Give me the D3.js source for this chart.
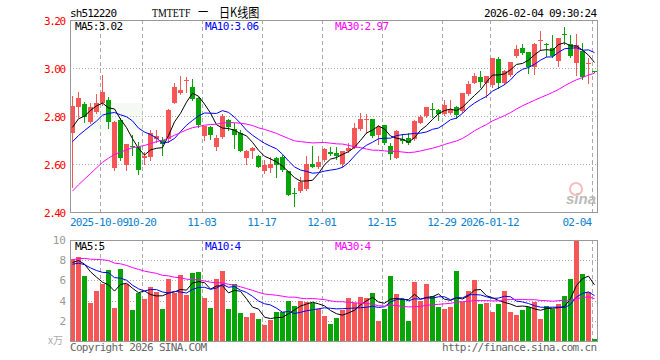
<!DOCTYPE html>
<html>
<head>
<meta charset="utf-8">
<title>sh512220 日K线图</title>
<script src="https://d3js.org/d3.v7.min.js"></script>
<style>
  body { margin: 0; background: #fff; }
  svg { display: block; }
  text { font-family: "DejaVu Sans Mono", monospace; }
</style>
</head>
<body>
<script>
// trading days shown on the chart
var dates = [
  "2025-09-24","2025-09-25","2025-09-26","2025-09-29","2025-09-30",
  "2025-10-09","2025-10-10","2025-10-13","2025-10-14","2025-10-15","2025-10-16","2025-10-17",
  "2025-10-20","2025-10-21","2025-10-22","2025-10-23","2025-10-24",
  "2025-10-27","2025-10-28","2025-10-29","2025-10-30","2025-10-31",
  "2025-11-03","2025-11-04","2025-11-05","2025-11-06","2025-11-07",
  "2025-11-10","2025-11-11","2025-11-12","2025-11-13","2025-11-14",
  "2025-11-17","2025-11-18","2025-11-19","2025-11-20","2025-11-21",
  "2025-11-24","2025-11-25","2025-11-26","2025-11-27","2025-11-28",
  "2025-12-01","2025-12-02","2025-12-03","2025-12-04","2025-12-05",
  "2025-12-08","2025-12-09","2025-12-10","2025-12-11","2025-12-12",
  "2025-12-15","2025-12-16","2025-12-17","2025-12-18","2025-12-19",
  "2025-12-22","2025-12-23","2025-12-24","2025-12-25","2025-12-26",
  "2025-12-29","2025-12-30","2025-12-31",
  "2026-01-05","2026-01-06","2026-01-07","2026-01-08","2026-01-09",
  "2026-01-12","2026-01-13","2026-01-14","2026-01-15","2026-01-16",
  "2026-01-19","2026-01-20","2026-01-21","2026-01-22","2026-01-23",
  "2026-01-26","2026-01-27","2026-01-28","2026-01-29","2026-01-30",
  "2026-02-02","2026-02-03","2026-02-04"
];

var open = [2.730,2.836,2.850,2.776,2.818,2.856,2.867,2.582,2.783,2.596,
  2.675,2.672,2.627,2.628,2.703,2.700,2.703,2.853,2.894,2.945,
  2.922,2.874,2.717,2.753,2.669,2.711,2.783,2.744,2.731,2.624,
  2.656,2.633,2.572,2.582,2.626,2.631,2.572,2.478,2.489,2.494,
  2.600,2.589,2.617,2.651,2.644,2.600,2.656,2.665,2.744,2.784,
  2.788,2.721,2.763,2.675,2.626,2.703,2.707,2.703,2.772,2.800,
  2.831,2.825,2.808,2.814,2.836,2.822,2.892,2.939,2.961,2.936,
  2.929,3.036,2.936,2.971,3.050,3.082,3.068,3.006,3.114,3.099,
  3.085,3.031,3.140,3.100,3.022,3.071,3.017,2.986];
var high = [2.883,2.901,2.860,2.853,2.892,2.971,2.881,2.780,2.790,2.683,
  2.720,2.693,2.651,2.742,2.742,2.714,2.828,2.939,2.967,2.964,
  2.954,2.881,2.758,2.758,2.721,2.807,2.786,2.769,2.742,2.658,
  2.672,2.637,2.617,2.631,2.631,2.638,2.572,2.499,2.547,2.633,
  2.675,2.633,2.665,2.672,2.669,2.654,2.686,2.769,2.811,2.808,
  2.788,2.763,2.763,2.689,2.742,2.724,2.728,2.783,2.804,2.836,
  2.853,2.831,2.867,2.867,2.842,2.897,2.946,2.978,2.989,2.967,
  3.043,3.044,2.992,3.025,3.096,3.099,3.068,3.106,3.154,3.103,
  3.138,3.125,3.172,3.138,3.140,3.103,3.040,2.986];
var low = [2.506,2.797,2.776,2.769,2.811,2.846,2.749,2.575,2.615,2.575,
  2.637,2.558,2.600,2.617,2.693,2.638,2.693,2.853,2.892,2.901,
  2.867,2.753,2.700,2.703,2.658,2.707,2.742,2.665,2.655,2.600,
  2.624,2.586,2.561,2.568,2.547,2.572,2.471,2.425,2.485,2.492,
  2.586,2.582,2.614,2.638,2.619,2.586,2.651,2.665,2.742,2.731,
  2.714,2.683,2.683,2.619,2.624,2.689,2.683,2.700,2.769,2.797,
  2.797,2.783,2.804,2.808,2.790,2.818,2.888,2.936,2.922,2.881,
  2.922,2.915,2.933,2.967,3.047,3.058,2.981,2.975,3.075,3.050,
  3.047,3.008,3.100,3.047,2.971,2.953,2.936,2.985];
var close = [2.842,2.876,2.797,2.839,2.856,2.901,2.776,2.775,2.624,2.683,
  2.669,2.575,2.635,2.731,2.717,2.683,2.825,2.922,2.908,2.950,
  2.869,2.763,2.758,2.721,2.707,2.800,2.753,2.721,2.656,2.656,
  2.665,2.589,2.596,2.600,2.596,2.575,2.471,2.475,2.526,2.600,
  2.589,2.610,2.661,2.642,2.633,2.654,2.668,2.751,2.786,2.786,
  2.717,2.753,2.686,2.642,2.738,2.697,2.689,2.781,2.797,2.836,
  2.826,2.808,2.846,2.828,2.804,2.897,2.932,2.967,2.943,2.967,
  3.043,2.936,2.989,3.025,3.081,3.064,3.006,3.099,3.117,3.096,
  3.050,3.125,3.138,3.050,3.096,2.964,3.019,2.985];
// volume, 万手
var volume = [8.1,8.3,6.4,3.8,5.0,5.6,7.0,3.3,7.1,5.6,
  3.1,4.8,4.2,5.3,4.9,3.2,6.1,4.8,6.5,4.6,
  6.7,6.8,4.3,3.3,6.1,6.9,3.2,5.6,2.8,2.4,
  2.8,2.2,1.6,2.1,2.9,2.9,4.0,3.5,4.0,3.9,
  3.8,3.2,2.5,1.7,2.3,3.1,4.3,3.8,4.4,4.3,
  4.8,2.0,3.2,6.4,4.7,4.2,2.0,5.8,4.0,5.6,
  4.5,3.4,3.2,3.4,6.9,3.9,5.0,6.0,3.7,3.8,
  2.9,3.7,5.0,2.9,2.6,3.1,3.4,3.9,2.2,3.5,
  3.2,3.7,4.5,6.1,10.0,6.6,4.9,0.2];

// 29 sessions before the window, only used for the moving averages
var prevClose = [2.08,2.10,2.13,2.16,2.20,2.26,2.30,2.35,2.38,2.41,
  2.44,2.49,2.50,2.47,2.52,2.56,2.55,2.58,2.60,2.60,
  2.62,2.59,2.64,2.66,2.655,2.70,2.74,2.72,2.763];
var prevVolume = [5.2,5.6,6.0,5.8,6.5,9.5,10.8,9.2,10.5,9.4,
  10.1,9.5,8.8,8.0,9.1,7.6,8.9,8.2,8.6,8.1,
  7.2,7.9,7.0,7.6,7.45,7.3,8.2,7.6,7.65];

var priceTicks = [2.40, 2.60, 2.80, 3.00, 3.20];
var volTicks = [2, 4, 6, 8, 10];
var tickDates = ["2025-10-09","2025-10-20","2025-11-03","2025-11-17","2025-12-01",
  "2025-12-15","2025-12-29","2026-01-12","2026-02-04"];
var tickLabels = ["2025-10-09","10-20","11-03","11-17","12-01","12-15","12-29","2026-01-12","02-04"];

var W = 660, H = 360;
var left = 70, right = 597;
var pTop = 20, pBot = 212, vTop = 240, vBot = 341;
var RED = "#f65656", GREEN = "#07a507";

var svg = d3.select("body").append("svg").attr("width", W).attr("height", H);

var x = d3.scaleLinear().domain([0, dates.length]).range([left, left + 6 * dates.length]);
var y = d3.scaleLinear().domain([2.4, 3.2]).range([pBot, pTop]);
var yv = d3.scaleLinear().domain([0, 10]).range([vBot, vTop]);

function ma(prev, cur, n) {
  var all = prev.concat(cur), off = prev.length;
  return cur.map(function(d, i) {
    return d3.mean(all.slice(off + i - n + 1, off + i + 1));
  });
}
var pMA = [5, 10, 30].map(function(n) { return ma(prevClose, close, n); });
var vMA = [5, 10, 30].map(function(n) { return ma(prevVolume, volume, n); });
var maColors = ["#000000", "#0000ff", "#ff00ff"];

var idx = d3.range(dates.length);
var up = function(i) { return close[i] >= open[i]; };

// grid
function grid(y0, y1, ys, sc) {
  var g = svg.append("g").attr("shape-rendering", "crispEdges");
  g.selectAll("line.v").data(tickDates).enter().append("line")
    .attr("x1", function(d) { return x(dates.indexOf(d)) + 0.5; })
    .attr("x2", function(d) { return x(dates.indexOf(d)) + 0.5; })
    .attr("y1", y0).attr("y2", y1)
    .attr("stroke", "#aaa").attr("stroke-dasharray", "4,3");
  g.selectAll("line.h").data(ys).enter().append("line")
    .attr("x1", left).attr("x2", right)
    .attr("y1", function(d) { return Math.round(sc(d)) + 0.5; })
    .attr("y2", function(d) { return Math.round(sc(d)) + 0.5; })
    .attr("stroke", "#aaa").attr("stroke-dasharray", "1,2");
}
grid(pTop, pBot, [2.6, 2.8, 3.0], y);
grid(vTop, vBot, [2, 4, 6, 8], yv);

// watermark ghost
svg.append("rect").attr("x", 85).attr("y", 103).attr("width", 58).attr("height", 27)
  .attr("fill", "#dfeede").attr("opacity", 0.35);

// candles
var cg = svg.append("g").attr("shape-rendering", "crispEdges");
cg.selectAll("line.wick").data(idx).enter().append("line")
  .attr("x1", function(i) { return x(i) + 2.5; })
  .attr("x2", function(i) { return x(i) + 2.5; })
  .attr("y1", function(i) { return y(high[i]); })
  .attr("y2", function(i) { return y(low[i]) + 1; })
  .attr("stroke", function(i) { return up(i) ? RED : GREEN; });
cg.selectAll("rect.body").data(idx).enter().append("rect")
  .attr("x", function(i) { return x(i); })
  .attr("width", 5)
  .attr("y", function(i) { return y(Math.max(open[i], close[i])); })
  .attr("height", function(i) { return Math.max(1, Math.abs(y(open[i]) - y(close[i]))); })
  .attr("fill", function(i) { return up(i) ? RED : GREEN; });

// volume bars
var vg = svg.append("g").attr("shape-rendering", "crispEdges");
vg.selectAll("rect").data(idx).enter().append("rect")
  .attr("x", function(i) { return x(i); })
  .attr("width", 5)
  .attr("y", function(i) { return yv(volume[i]); })
  .attr("height", function(i) { return vBot - yv(volume[i]); })
  .attr("fill", function(i) { return up(i) ? RED : GREEN; });

// moving average lines
function drawMA(series, sc) {
  series.forEach(function(s, k) {
    var line = d3.line()
      .x(function(d, i) { return x(i) + 2.5; })
      .y(function(d) { return sc(d); });
    svg.append("path").datum(s)
      .attr("fill", "none").attr("stroke", maColors[k]).attr("stroke-width", 1)
      .attr("d", line);
  });
}
drawMA(pMA, y);
drawMA(vMA, yv);

// clip right edge overflow
svg.append("rect").attr("x", right + 1).attr("y", 0).attr("width", W - right).attr("height", H).attr("fill", "#fff");

// frames
[[pTop, pBot], [vTop, vBot]].forEach(function(b) {
  svg.append("rect").attr("x", left + 0.5).attr("y", b[0] + 0.5)
    .attr("width", right - left).attr("height", b[1] - b[0])
    .attr("fill", "none").attr("stroke", "#999").attr("shape-rendering", "crispEdges");
});

// price axis
var pa = svg.append("g").attr("transform", "translate(" + (left - 4) + ",1)")
  .call(d3.axisLeft(y).tickValues(priceTicks).tickSize(0).tickPadding(0).tickFormat(d3.format(".2f")));
pa.select(".domain").remove();
pa.selectAll("text").attr("fill", "#ff0000").style("font-size", "11px")
  .style("font-family", "DejaVu Sans Mono").attr("textLength", 22);

// volume axis
var va = svg.append("g").attr("transform", "translate(" + (left - 4) + ",0)")
  .call(d3.axisLeft(yv).tickValues(volTicks).tickSize(0).tickPadding(0));
va.select(".domain").remove();
va.selectAll("text").attr("fill", "#999").style("font-size", "11px")
  .style("font-family", "DejaVu Sans Mono");
svg.append("text").attr("x", 63).attr("y", 344).attr("text-anchor", "end")
  .attr("fill", "#aaa").style("font-size", "10px").style("font-family", "Noto Sans CJK SC")
  .text("x万");

// date labels
svg.selectAll("text.date").data(tickDates).enter().append("text")
  .attr("x", function(d, k) {
    if (k === 0) return left;
    return x(dates.indexOf(d));
  })
  .attr("y", 226)
  .attr("text-anchor", function(d, k) { return k === 0 ? "start" : (k === tickDates.length - 1 ? "end" : "middle"); })
  .attr("fill", "#0a82d0").style("font-size", "11px")
  .attr("textLength", function(d, k) { return tickLabels[k].length * 5.9; })
  .text(function(d, k) { return tickLabels[k]; });

// header
svg.append("text").attr("x", 70).attr("y", 17).style("font-size", "11px")
  .attr("textLength", 47).text("sh512220");
// title: narrow serif latin part, then the CJK part
svg.append("text").attr("transform", "translate(152,17) scale(0.76,1)")
  .style("font-size", "13px").style("font-family", "'Liberation Serif'")
  .text("TMTETF");
svg.append("text").attr("transform", "translate(198,17) scale(0.85,1)")
  .style("font-size", "12px").style("font-family", "'Noto Sans CJK SC'")
  .text("一");
svg.append("text").attr("transform", "translate(219,17) scale(0.85,1)")
  .style("font-size", "13px").style("font-family", "'Noto Sans CJK SC'")
  .text("日K线图");
svg.append("text").attr("x", 597).attr("y", 17).attr("text-anchor", "end").style("font-size", "11px")
  .attr("textLength", 113).text("2026-02-04 09:30:24");

// legends (values truncated, as on the source chart)
var last = dates.length - 1;
var trunc2 = function(v) { return (Math.floor(v * 100 + 1e-9) / 100).toFixed(2); };
var lx = [75, 205, 335], names = ["MA5:", "MA10:", "MA30:"];
names.forEach(function(n, k) {
  svg.append("text").attr("x", lx[k]).attr("y", 30).attr("fill", maColors[k])
    .style("font-size", "11px").attr("textLength", (n.length + 4) * 6)
    .text(n + trunc2(pMA[k][last]));
  svg.append("text").attr("x", lx[k]).attr("y", 250).attr("fill", maColors[k])
    .style("font-size", "11px").attr("textLength", (n.length + 1) * 6)
    .text(n + Math.floor(vMA[k][last]));
});

// footer
svg.append("text").attr("x", 70).attr("y", 351).attr("fill", "#666").style("font-size", "11px")
  .attr("textLength", 137).text("Copyright 2026 SINA.COM");
svg.append("text").attr("x", 597).attr("y", 351).attr("text-anchor", "end").attr("fill", "#666")
  .style("font-size", "11px").attr("textLength", 155).text("http://finance.sina.com.cn");

// sina logo
svg.append("circle").attr("cx", 576).attr("cy", 189).attr("r", 6)
  .attr("fill", "none").attr("stroke", "#f3a0a0").attr("stroke-width", 2).attr("opacity", 0.7);
svg.append("text").attr("x", 596).attr("y", 204).attr("text-anchor", "end")
  .attr("fill", "#bbb").style("font-size", "15px").style("font-style", "italic")
  .style("font-weight", "bold").style("font-family", "'Liberation Sans'").text("sina");
</script>
</body>
</html>
